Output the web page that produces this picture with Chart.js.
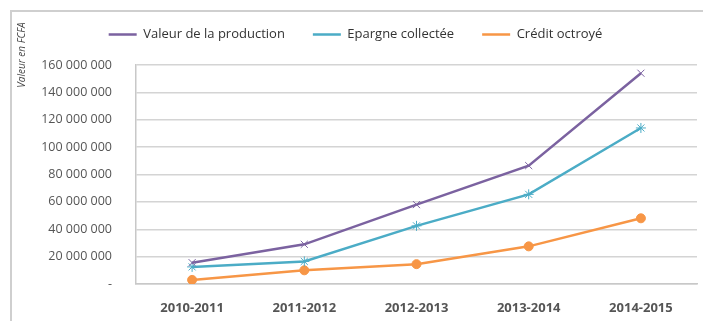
<!DOCTYPE html>
<html>
<head>
<meta charset="utf-8">
<script src="https://cdn.jsdelivr.net/npm/chart.js@4"></script>
<style>
  html, body { margin: 0; padding: 0; background: #fff; }
  #wrap { width: 703px; height: 321px; position: relative; }
</style>
</head>
<body>
<div id="wrap"><canvas id="chart"></canvas></div>
<script>
const categories = ['2010-2011', '2011-2012', '2012-2013', '2013-2014', '2014-2015']
const production = [15600000, 29000000, 58000000, 86500000, 154000000]
const epargne = [12500000, 16500000, 42500000, 65500000, 114000000]
const credit = [3000000, 10000000, 14500000, 27500000, 48000000]
const yTicks = [0, 20000000, 40000000, 60000000, 80000000, 100000000, 120000000, 140000000, 160000000]
const yTitle = 'Valeur en FCFA'

const fmt = (v) => v === 0 ? '-' : String(v).replace(/\B(?=(\d{3})+(?!\d))/g, ' ')

// grey frame on the top and left edges + the axis title up in the corner
const frame = {
  id: 'frame',
  beforeDraw(chart) {
    const ctx = chart.ctx
    ctx.save()
    ctx.strokeStyle = '#cfcfcf'
    ctx.lineWidth = 2
    ctx.beginPath()
    ctx.moveTo(11, 321)
    ctx.lineTo(11, 11)
    ctx.lineTo(703, 11)
    ctx.stroke()

    ctx.translate(22, 55)
    ctx.rotate(-Math.PI / 2)
    ctx.font = 'italic 10px "Open Sans"'
    ctx.fillStyle = '#444'
    ctx.textAlign = 'center'
    ctx.textBaseline = 'middle'
    ctx.fillText(yTitle, 0, 0)
    ctx.restore()
  }
}

// leave some room under the legend
const legendGap = {
  id: 'legendGap',
  beforeInit(chart) {
    const fit = chart.legend.fit
    chart.legend.fit = function () {
      fit.bind(chart.legend)()
      this.height += 14
    }
  }
}

const line = (label, data, color, style, radius) => ({
  label,
  data,
  borderColor: color,
  backgroundColor: color,
  pointBorderColor: color,
  pointBackgroundColor: color,
  pointStyle: style,
  pointRadius: radius,
  pointBorderWidth: 1,
  borderWidth: 2.5,
  tension: 0
})

new Chart(document.getElementById('chart'), {
  type: 'line',
  data: {
    labels: categories,
    datasets: [
      line('Valeur de la production', production, '#7b62a0', 'crossRot', 5),
      line('Epargne collectée', epargne, '#4bacc6', 'star', 5),
      line('Crédit octroyé', credit, '#f79646', 'circle', 4.5)
    ]
  },
  options: {
    responsive: true,
    maintainAspectRatio: false,
    animation: false,
    layout: { padding: { left: 14, right: 6, top: 0, bottom: 0 } },
    plugins: {
      legend: {
        labels: {
          font: { family: 'Open Sans', size: 13 },
          color: '#333',
          boxWidth: 28,
          boxHeight: 0,
          padding: 28,
          usePointStyle: false
        }
      },
      tooltip: { enabled: false }
    },
    scales: {
      x: {
        offset: true,
        grid: { display: false },
        border: { color: '#c8c8c8', width: 1.5 },
        ticks: {
          font: { family: 'Open Sans', size: 13, weight: 'bold' },
          color: '#555',
          padding: 8
        },
        afterFit: (s) => { s.height = 37 }
      },
      y: {
        min: 0,
        max: 160000000,
        afterBuildTicks: (s) => { s.ticks = yTicks.map((v) => ({ value: v })) },
        grid: { color: '#d4d4d4', lineWidth: 1.5, drawTicks: false },
        border: { color: '#c8c8c8', width: 1.5 },
        ticks: {
          font: { family: 'Open Sans', size: 12.5 },
          color: '#555',
          padding: 24,
          callback: (v) => fmt(v)
        },
        afterFit: (s) => { s.width = 122 }
      }
    }
  },
  plugins: [frame, legendGap]
})
</script>
</body>
</html>
